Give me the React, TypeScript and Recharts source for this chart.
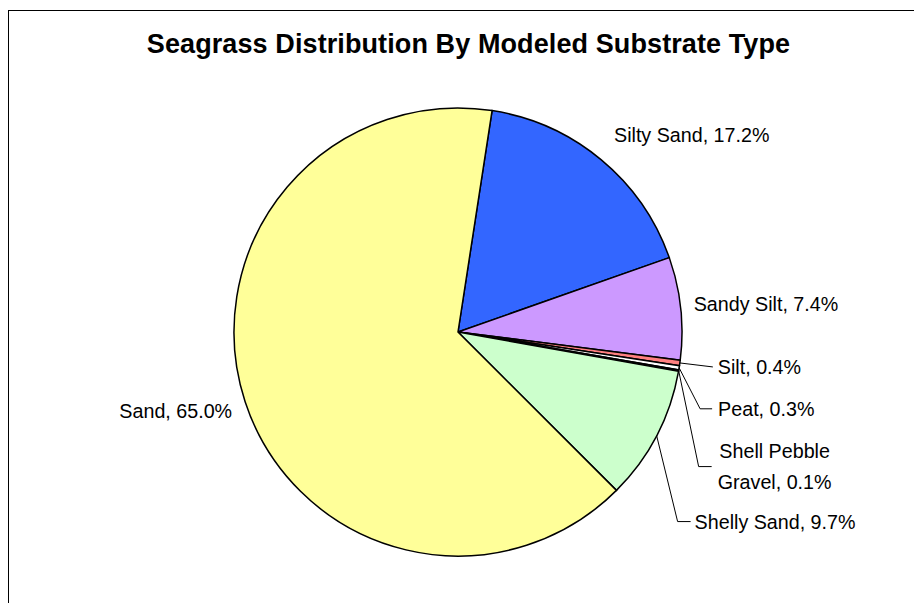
import React from 'react';
import { PieChart, Pie, Cell } from 'recharts';

// Seagrass share by substrate, in percent, clockwise from the top
const substrates = ['Silty Sand', 'Sandy Silt', 'Silt', 'Peat', 'Shell Pebble Gravel', 'Shelly Sand', 'Sand'];
const shares = [17.2, 7.4, 0.4, 0.3, 0.1, 9.7, 65.0];
const sliceColors = ['#3366FF', '#CC99FF', '#FF8080', '#FFFFFF', '#FFFFFF', '#CCFFCC', '#FFFF99'];

const chartData = substrates.map((name, i) => ({ name, value: shares[i] }));

const RADIAN = Math.PI / 180;
const FONT = '"Liberation Sans", Arial, sans-serif';

// label placement relative to the slice's outer edge point (Excel-like stagger for the thin slices)
type LabelPos = { dx: number; dy: number; anchor: 'start' | 'middle' | 'end'; line?: number[][]; wrap?: boolean };
const labelPos: LabelPos[] = [
  { dx: 13, dy: -25, anchor: 'start' },
  { dx: 13, dy: -4, anchor: 'start' },
  { dx: 38, dy: 4, anchor: 'start', line: [[33, 4]] },
  { dx: 39, dy: 41, anchor: 'start', line: [[21, 41], [33, 41]] },
  { dx: 96, dy: 80, anchor: 'middle', wrap: true, line: [[20, 96], [33, 96]] },
  { dx: 38, dy: 86, anchor: 'start', line: [[21, 86], [34, 86]] },
  { dx: -13, dy: 9, anchor: 'end' },
];

const renderLabel = (props: any) => {
  const { cx, cy, midAngle, outerRadius, index, name, value } = props;
  const ex = cx + outerRadius * Math.cos(-midAngle * RADIAN);
  const ey = cy + outerRadius * Math.sin(-midAngle * RADIAN);
  const pos = labelPos[index];
  const text = `${name}, ${Number(value).toFixed(1)}%`;
  const words = text.split(' ');
  const lines = pos.wrap ? [words.slice(0, 2).join(' '), words.slice(2).join(' ')] : [text];
  const pts = pos.line ? [[ex, ey], ...pos.line.map(([x, y]) => [ex + x, ey + y])] : null;
  return (
    <g key={`lbl-${index}`}>
      {pts && (
        <polyline
          points={pts.map((p) => p.join(',')).join(' ')}
          fill="none"
          stroke="#000"
          strokeWidth={1}
        />
      )}
      {lines.map((ln, j) => (
        <text
          key={j}
          x={ex + pos.dx}
          y={ey + pos.dy + j * 31}
          textAnchor={pos.anchor}
          dominantBaseline="central"
          fontFamily={FONT}
          fontSize={19.7}
          fill="#000"
        >
          {ln}
        </text>
      ))}
    </g>
  );
};

if (typeof document !== 'undefined') document.body.style.margin = '0';

export default function App() {
  return (
    <div style={{ position: 'relative', width: 914, height: 603, background: '#fff', overflow: 'hidden' }}>
      <div
        style={{
          position: 'absolute',
          left: 8,
          top: 10,
          width: 920,
          height: 610,
          borderLeft: '1px solid #000',
          borderTop: '1px solid #000',
        }}
      />
      <div
        style={{
          position: 'absolute',
          left: 0,
          width: 937,
          top: 29,
          textAlign: 'center',
          fontFamily: FONT,
          fontWeight: 'bold',
          fontSize: 27,
          letterSpacing: 0.1,
          lineHeight: '30px',
        }}
      >
        Seagrass Distribution By Modeled Substrate Type
      </div>
      <PieChart
        width={914}
        height={603}
        margin={{ top: 0, right: 0, bottom: 0, left: 0 }}
        style={{ position: 'absolute', left: 0, top: 0 }}
      >
        <Pie
          data={chartData}
          dataKey="value"
          nameKey="name"
          cx={458}
          cy={332}
          outerRadius={224}
          startAngle={81.25}
          endAngle={-278.75}
          stroke="#000"
          strokeWidth={1.5}
          label={renderLabel}
          labelLine={false}
          isAnimationActive={false}
        >
          {chartData.map((d, i) => (
            <Cell key={d.name} fill={sliceColors[i]} />
          ))}
        </Pie>
      </PieChart>
    </div>
  );
}
